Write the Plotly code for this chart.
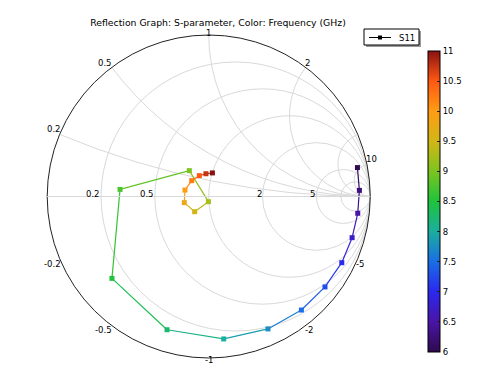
import numpy as np
import plotly.graph_objects as go
from plotly.colors import sample_colorscale

# Frequency (GHz)
freq = [6.0, 6.25, 6.5, 6.75, 7.0, 7.25, 7.5, 7.75, 8.0, 8.25, 8.5,
        8.75, 9.0, 9.25, 9.5, 9.75, 10.0, 10.25, 10.5, 10.75, 11.0]
# S11 reflection coefficient (real / imaginary parts)
s11_re = [0.921, 0.933, 0.923, 0.888, 0.824, 0.720, 0.574, 0.367, 0.093, -0.258, -0.599,
          -0.549, -0.120, -0.002, -0.087, -0.151, -0.147, -0.105, -0.058, -0.017, 0.023]
s11_im = [0.179, 0.038, -0.104, -0.255, -0.410, -0.560, -0.703, -0.820, -0.882, -0.825, -0.507,
          0.044, 0.160, -0.032, -0.094, -0.038, 0.040, 0.098, 0.129, 0.141, 0.146]

grid_vals = [0.2, 0.5, 1, 2, 5, 10]
real_labels = [0.2, 0.5, 2, 5]
imag_labels = [0.2, 0.5, 1, 2, 10, -0.2, -0.5, -1, -2, -5]
cbar_ticks = [6, 6.5, 7, 7.5, 8, 8.5, 9, 9.5, 10, 10.5, 11]

rainbow = [
    [0.0, "#2e0a4e"], [0.1, "#4a14a6"], [0.2, "#2a28ee"], [0.3, "#1a6ee6"],
    [0.4, "#1aae9e"], [0.5, "#1ec43c"], [0.6, "#7cc41e"], [0.7, "#d2b616"],
    [0.8, "#ff9c14"], [0.9, "#ff5812"], [1.0, "#8a1212"],
]

W, H = 479, 366
FONT = "DejaVu Sans"
LBL = 8.5

gamma = np.array(s11_re) + 1j * np.array(s11_im)
z = (1 + gamma) / (1 - gamma)
zr, zi = z.real, z.imag

fmin, fmax = min(freq), max(freq)
fig = go.Figure()

# colored line segments
for k in range(len(freq) - 1):
    fm = 0.5 * (freq[k] + freq[k + 1])
    c = sample_colorscale(rainbow, [(fm - fmin) / (fmax - fmin)])[0]
    fig.add_trace(go.Scattersmith(
        real=zr[k:k + 2], imag=zi[k:k + 2], mode="lines",
        line=dict(color=c, width=1.2), showlegend=False, hoverinfo="skip"))

fig.add_trace(go.Scattersmith(
    real=zr, imag=zi, mode="markers", showlegend=False,
    marker=dict(symbol="square", size=5, color=freq, colorscale=rainbow,
                cmin=fmin, cmax=fmax, line=dict(width=0),
                colorbar=dict(x=428 / W, xanchor="left", y=1 - 201.5 / H, yanchor="middle",
                              len=301 / H, thickness=12, outlinecolor="black", outlinewidth=1,
                              tickvals=cbar_ticks, ticks="inside", ticklen=3, tickcolor="#222",
                              tickfont=dict(family=FONT, size=LBL, color="black"),
                              xpad=0, ypad=0))))

# Smith chart geometry (pixels)
cx, cy, R = 208.7, 196.5, 161.5
dom_x = [(cx - R) / W, (cx + R) / W]
dom_y = [(H - cy - R) / H, (H - cy + R) / H]

annotations = []
# real-axis labels
for r in real_labels:
    g = (r - 1) / (r + 1)
    px = cx + R * g
    annotations.append(dict(x=px / W, y=1 - (cy + 3) / H, xref="paper", yref="paper",
                            text=f"{r:g}", showarrow=False, xanchor="right", yanchor="bottom",
                            font=dict(family=FONT, size=LBL, color="black"), borderpad=0))
# imaginary-axis labels on the outer circle
for x in imag_labels:
    g = (1j * x - 1) / (1j * x + 1)
    ang = np.angle(g)
    RL = R - (4.5 if abs(x) == 1 else 2.5)
    px = cx + RL * np.cos(ang)
    py = cy - RL * np.sin(ang)
    if abs(x) == 1:
        xa = "center"
    elif np.cos(ang) < 0:
        xa = "right"
    else:
        xa = "left"
    ya = "bottom" if x > 0 else "top"
    txt = f"{x:g}"
    annotations.append(dict(x=px / W, y=1 - py / H, xref="paper", yref="paper",
                            text=txt, showarrow=False, xanchor=xa, yanchor=ya,
                            font=dict(family=FONT, size=LBL, color="black"), borderpad=0))

# legend box (manual)
lx0, lx1, ly0, ly1 = 364, 419, 29, 45
shapes = [
    dict(type="rect", xref="paper", yref="paper", x0=(lx0 + 2) / W, x1=(lx1 + 2) / W,
         y0=1 - (ly1 + 2) / H, y1=1 - (ly0 + 2) / H, fillcolor="#9a9a9a", line=dict(width=0)),
    dict(type="rect", xref="paper", yref="paper", x0=lx0 / W, x1=lx1 / W,
         y0=1 - ly1 / H, y1=1 - ly0 / H, fillcolor="white", line=dict(color="black", width=1)),
    dict(type="line", xref="paper", yref="paper", x0=369 / W, x1=391 / W,
         y0=1 - 37.5 / H, y1=1 - 37.5 / H, line=dict(color="black", width=1)),
    dict(type="rect", xref="paper", yref="paper", x0=378 / W, x1=382 / W,
         y0=1 - 39.5 / H, y1=1 - 35.5 / H, fillcolor="black", line=dict(width=0)),
]
annotations.append(dict(x=398 / W, y=1 - 37.5 / H, xref="paper", yref="paper", text="S11",
                        showarrow=False, xanchor="left", yanchor="middle",
                        font=dict(family=FONT, size=LBL, color="black"), borderpad=0))

fig.update_layout(
    width=W, height=H,
    margin=dict(l=0, r=0, t=0, b=0),
    paper_bgcolor="white",
    font=dict(family=FONT, size=LBL, color="black"),
    title=dict(text="Reflection Graph: S-parameter, Color: Frequency (GHz)",
               x=218 / W, xanchor="center", y=1 - 22.5 / H, yanchor="middle",
               font=dict(family=FONT, size=9.3, color="black")),
    showlegend=False,
    annotations=annotations,
    shapes=shapes,
    smith=dict(
        domain=dict(x=dom_x, y=dom_y),
        bgcolor="white",
        realaxis=dict(tickvals=grid_vals, gridcolor="#d9d9d9", gridwidth=1,
                      linecolor="#d9d9d9", showticklabels=False),
        imaginaryaxis=dict(tickvals=grid_vals, gridcolor="#d9d9d9", gridwidth=1,
                           linecolor="#222222", linewidth=1, showticklabels=False),
    ),
)

fig.write_html("out.html", config={"displayModeBar": False},
               post_script="document.body.style.margin='0px';")
